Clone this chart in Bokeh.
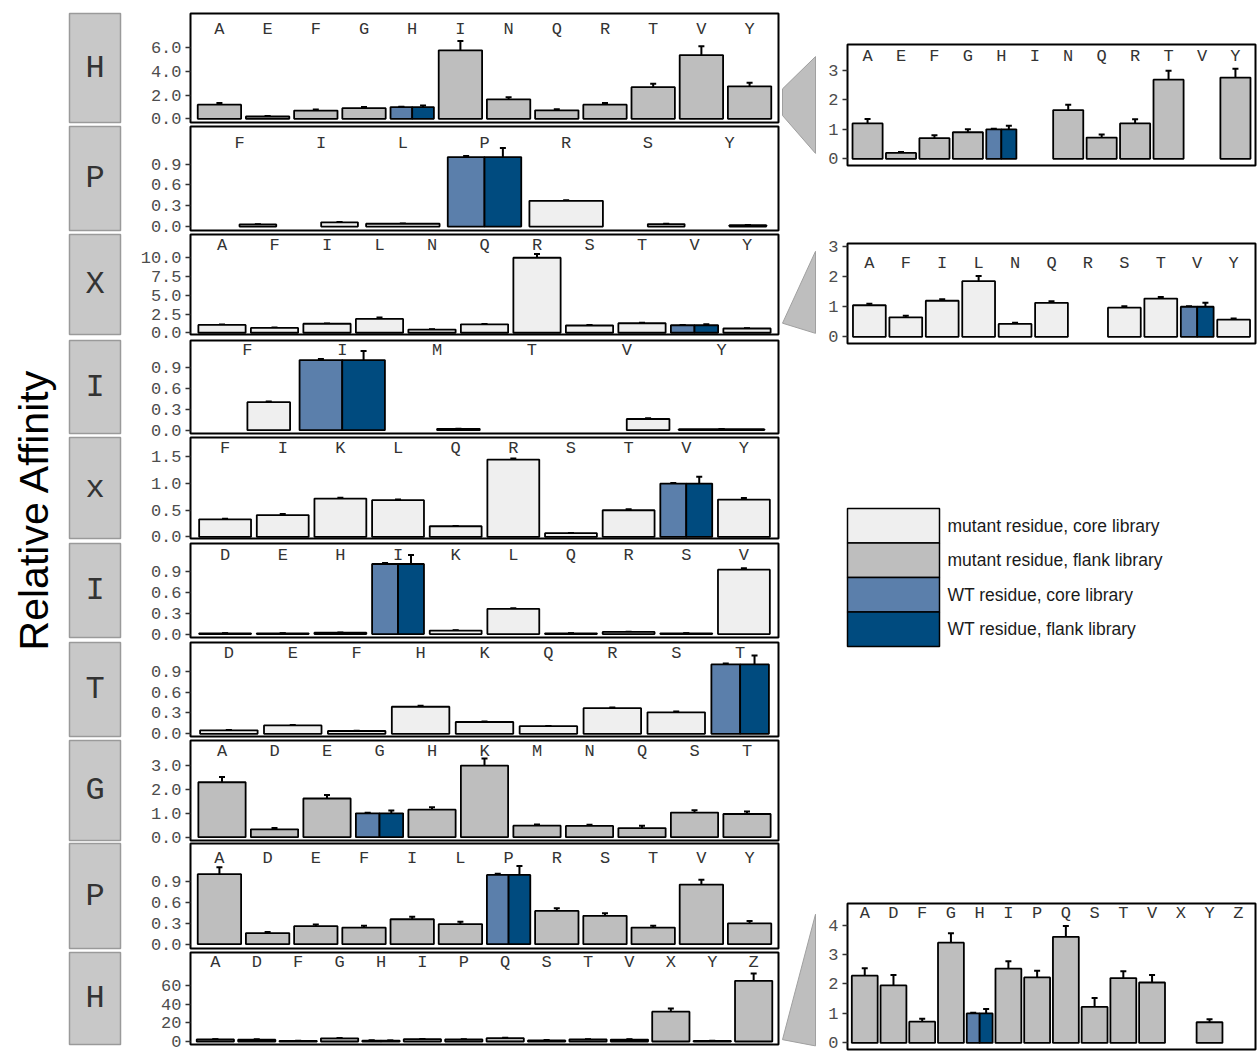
import math

from bokeh.core.properties import value
from bokeh.embed import file_html
from bokeh.layouts import column, row
from bokeh.models import (ColumnDataSource, FixedTicker, Label, PrintfTickFormatter,
                          Range1d, Spacer, TeeHead, Whisker)
from bokeh.plotting import figure
from bokeh.resources import INLINE

MONO = "Liberation Mono"
SANS = "Liberation Sans"

# ---------------------------------------------------------------- data
# Rows with value None are library entries without a measurement; they still
# take their share of the letter's slot (dodged bars).
# library: "C" = core library, "F" = flank library

position_labels = ["H", "P", "X", "I", "x", "I", "T", "G", "P", "H"]
wild_type = ["H", "P", "V", "I", "V", "I", "T", "G", "P", "H"]

p1_letters = ["A", "E", "F", "G", "H", "H", "I", "N", "Q", "R", "T", "V", "Y"]
p1_library = ["F", "F", "F", "F", "C", "F", "F", "F", "F", "F", "F", "F", "F"]
p1_values = [1.2, 0.2, 0.7, 0.9, 1.0, 1.0, 5.8, 1.65, 0.72, 1.2, 2.68, 5.4, 2.75]
p1_errors = [0.15, 0.03, 0.1, 0.1, 0.02, 0.12, 0.8, 0.18, 0.1, 0.14, 0.3, 0.75, 0.3]

p2_letters = ["F", "F", "I", "I", "L", "P", "P", "R", "S", "S", "Y", "Y"]
p2_library = ["C", "F", "F", "C", "C", "C", "F", "C", "C", "F", "C", "F"]
p2_values = [None, 0.03, None, 0.06, 0.04, 1.0, 1.0, 0.37, None, 0.035, None, 0.02]
p2_errors = [None, 0.003, None, 0.004, 0.003, 0.015, 0.13, 0.01, None, 0.004, None, 0.003]

p3_letters = ["A", "F", "I", "L", "N", "Q", "R", "S", "T", "V", "V", "Y"]
p3_library = ["C", "C", "C", "C", "C", "C", "C", "C", "C", "C", "F", "C"]
p3_values = [1.05, 0.65, 1.2, 1.85, 0.43, 1.13, 10.0, 0.97, 1.27, 1.0, 1.0, 0.57]
p3_errors = [0.05, 0.05, 0.05, 0.17, 0.04, 0.05, 0.5, 0.05, 0.05, 0.02, 0.13, 0.04]

p4_letters = ["F", "F", "I", "I", "M", "M", "T", "V", "V", "Y"]
p4_library = ["F", "C", "C", "F", "C", "F", "C", "F", "C", "F"]
p4_values = [None, 0.4, 1.0, 1.0, None, 0.02, None, None, 0.16, 0.015]
p4_errors = [None, 0.01, 0.015, 0.13, None, 0.002, None, None, 0.01, 0.002]

p5_letters = ["F", "I", "K", "L", "Q", "R", "S", "T", "V", "V", "Y"]
p5_library = ["C", "C", "C", "C", "C", "C", "C", "C", "C", "F", "C"]
p5_values = [0.33, 0.41, 0.72, 0.69, 0.2, 1.45, 0.07, 0.5, 1.0, 1.0, 0.70]
p5_errors = [0.01, 0.02, 0.015, 0.012, 0.005, 0.02, 0.005, 0.02, 0.012, 0.13, 0.03]

p6_letters = ["D", "E", "H", "I", "I", "K", "L", "Q", "R", "S", "V"]
p6_library = ["C", "C", "F", "C", "F", "C", "C", "C", "F", "C", "C"]
p6_values = [0.01, 0.01, 0.02, 1.0, 1.0, 0.05, 0.36, 0.01, 0.03, 0.01, 0.92]
p6_errors = [0.002, 0.002, 0.003, 0.015, 0.13, 0.004, 0.008, 0.002, 0.004, 0.002, 0.02]

p7_letters = ["D", "E", "F", "H", "K", "Q", "R", "S", "T", "T"]
p7_library = ["C", "C", "C", "C", "C", "C", "C", "C", "C", "F"]
p7_values = [0.05, 0.12, 0.04, 0.39, 0.17, 0.11, 0.37, 0.31, 1.0, 1.0]
p7_errors = [0.004, 0.006, 0.003, 0.015, 0.008, 0.004, 0.01, 0.01, 0.015, 0.13]

p8_letters = ["A", "D", "E", "G", "G", "H", "K", "M", "N", "Q", "S", "T"]
p8_library = ["F", "F", "F", "C", "F", "F", "F", "F", "F", "F", "F", "F"]
p8_values = [2.3, 0.33, 1.62, 1.0, 1.0, 1.15, 3.0, 0.48, 0.47, 0.38, 1.03, 0.97]
p8_errors = [0.22, 0.05, 0.15, 0.02, 0.12, 0.1, 0.3, 0.05, 0.05, 0.1, 0.1, 0.1]

p9_letters = ["A", "D", "E", "F", "I", "L", "P", "P", "R", "S", "T", "V", "Y"]
p9_library = ["F", "F", "F", "F", "F", "F", "C", "F", "F", "F", "F", "F", "F"]
p9_values = [1.01, 0.16, 0.26, 0.24, 0.36, 0.29, 1.0, 1.0, 0.48, 0.41, 0.24, 0.86, 0.3]
p9_errors = [0.1, 0.015, 0.025, 0.025, 0.035, 0.035, 0.015, 0.13, 0.04, 0.035, 0.025, 0.07, 0.035]

p10_letters = ["A", "D", "F", "G", "H", "H", "I", "P", "Q", "S", "T", "V", "X", "Y", "Z"]
p10_library = ["F", "F", "F", "F", "C", "F", "F", "F", "F", "F", "F", "F", "F", "F", "F"]
p10_values = [2.28, 1.95, 0.72, 3.4, 1.0, 1.0, 2.52, 2.22, 3.6, 1.22, 2.2, 2.05, 32.0, 0.7, 65.0]
p10_errors = [0.25, 0.35, 0.1, 0.32, 0.02, 0.15, 0.25, 0.23, 0.37, 0.3, 0.23, 0.25, 3.5, 0.1, 8.0]

panels = [
    (p1_letters, p1_library, p1_values, p1_errors),
    (p2_letters, p2_library, p2_values, p2_errors),
    (p3_letters, p3_library, p3_values, p3_errors),
    (p4_letters, p4_library, p4_values, p4_errors),
    (p5_letters, p5_library, p5_values, p5_errors),
    (p6_letters, p6_library, p6_values, p6_errors),
    (p7_letters, p7_library, p7_values, p7_errors),
    (p8_letters, p8_library, p8_values, p8_errors),
    (p9_letters, p9_library, p9_values, p9_errors),
    (p10_letters, p10_library, p10_values, p10_errors),
]

legend_labels = ["mutant residue, core library", "mutant residue, flank library",
                 "WT residue, core library", "WT residue, flank library"]

# ---------------------------------------------------------------- styling / layout
FILL = {("mut", "C"): "#EFEFEF", ("mut", "F"): "#BEBEBE",
        ("wt", "C"): "#5B7FAB", ("wt", "F"): "#004B7F"}
legend_colors = [FILL[("mut", "C")], FILL[("mut", "F")], FILL[("wt", "C")], FILL[("wt", "F")]]
BAR_WIDTH = 0.9
OVERLAP = 10  # each row canvas reaches this far under the next one (tick labels)

# y axis settings per panel: (range, ticks, format, height of the letter row)
axis_cfg = [
    ((-0.31, 8.92), [0, 2, 4, 6], "%.1f", 7.6),
    ((-0.057, 1.44), [0, 0.3, 0.6, 0.9], "%.1f", 1.2),
    ((-0.23, 13.1), [0, 2.5, 5, 7.5, 10], "%.1f", 11.6),
    ((-0.047, 1.28), [0, 0.3, 0.6, 0.9], "%.1f", 1.14),
    ((-0.03, 1.865), [0, 0.5, 1.0, 1.5], "%.1f", 1.66),
    ((-0.049, 1.293), [0, 0.3, 0.6, 0.9], "%.1f", 1.12),
    ((-0.039, 1.316), [0, 0.3, 0.6, 0.9], "%.1f", 1.16),
    ((-0.14, 4.05), [0, 1, 2, 3], "%.1f", 3.6),
    ((-0.062, 1.453), [0, 0.3, 0.6, 0.9], "%.1f", 1.24),
    ((-3.2, 95.4), [0, 20, 40, 60], "%d", 84.7),
]
# row bands (page px): figure top, frame top, frame bottom, figure bottom,
# and the bottom of the position box
row_bands = [(0, 13, 122, 124, 122), (124, 126, 230, 232, 230),
             (232, 234, 334, 337, 334), (337, 340, 433, 435, 433),
             (435, 437, 538, 540, 538), (540, 543, 637, 639, 637),
             (639, 642, 736, 738, 736), (738, 740, 840, 841, 840),
             (841, 843, 948, 950, 948), (950, 952, 1044, 1053, 1052)]

# zoomed views: (panel index, y range, ticks, height of the letter row)
inset_cfg = [
    (0, (-0.225, 3.87), [0, 1, 2, 3], 3.47),
    (2, (-0.22, 3.1), [0, 1, 2, 3], 2.43),
    (9, (-0.224, 4.73), [0, 1, 2, 3, 4], 4.4),
]


def clean(p):
    p.xgrid.visible = False
    p.ygrid.visible = False
    return p


def style_axis(p, ticks, fmt):
    ax = p.yaxis[0]
    ax.ticker = FixedTicker(ticks=ticks)
    ax.formatter = PrintfTickFormatter(format=fmt)
    ax.axis_line_color = None
    ax.major_tick_in = 0
    ax.major_tick_out = 5
    ax.major_tick_line_color = "#333333"
    ax.major_tick_line_width = 1.5
    ax.minor_tick_line_color = None
    ax.major_label_standoff = 4
    ax.major_label_text_font = MONO
    ax.major_label_text_font_size = "17px"
    ax.major_label_text_color = "#4D4D4D"


def bar_panel(data, wt, yr, ticks, fmt, letter_y, width, height, borders, clip=False):
    letters, library, values, errors = data
    order = list(dict.fromkeys(letters))
    n = len(order)
    left_b, right_b, top_b, bottom_b = borders
    p = figure(width=width, height=height, title=None, output_backend="svg",
               toolbar_location=None, x_range=Range1d(0.4, n + 0.6),
               y_range=Range1d(*yr), x_axis_location=None,
               min_border_left=left_b, min_border_right=right_b,
               min_border_top=top_b, min_border_bottom=bottom_b,
               outline_line_color="black", outline_line_width=2,
               background_fill_color="white", border_fill_color=None)
    clean(p)
    style_axis(p, ticks, fmt)

    bars = dict(left=[], right=[], top=[], color=[])
    errs = dict(x=[], lower=[], upper=[])
    for slot, letter in enumerate(order, start=1):
        idx = [i for i, l in enumerate(letters) if l == letter]
        w = BAR_WIDTH / len(idx)
        for k, i in enumerate(idx):
            v = values[i]
            if v is None or (clip and v > yr[1]):
                continue
            x0 = slot - BAR_WIDTH / 2 + k * w
            kind = "wt" if letter == wt else "mut"
            bars["left"].append(x0)
            bars["right"].append(x0 + w)
            bars["top"].append(v)
            bars["color"].append(FILL[(kind, library[i])])
            errs["x"].append(x0 + w / 2)
            errs["lower"].append(v - errors[i])
            errs["upper"].append(v + errors[i])

    p.quad(left="left", right="right", bottom=0, top="top", fill_color="color",
           line_color="black", line_width=1.8, source=ColumnDataSource(bars))
    p.add_layout(Whisker(source=ColumnDataSource(errs), base="x", lower="lower",
                         upper="upper", dimension="height", line_color="black",
                         line_width=2,
                         upper_head=TeeHead(size=6, line_width=2, line_color="black"),
                         lower_head=TeeHead(size=6, line_width=2, line_color="black")))
    p.text(x=list(range(1, n + 1)), y=[letter_y] * n, text=order,
           text_font=value(MONO), text_font_size="17px", text_color="#333333",
           text_align="center", text_baseline="middle")
    return p


def position_box(name, height, top_b, bottom_b):
    p = figure(width=58, height=height, title=None, output_backend="svg",
               toolbar_location=None, x_range=Range1d(0, 1), y_range=Range1d(0, 1),
               x_axis_location=None, y_axis_location=None,
               min_border_left=3, min_border_right=4,
               min_border_top=top_b, min_border_bottom=bottom_b,
               background_fill_color="#C8C8C8", border_fill_color=None,
               outline_line_color="#9A9A9A", outline_line_width=1.5)
    clean(p)
    p.add_layout(Label(x=0.5, y=0.5, text=name, text_align="center",
                       text_baseline="middle", text_font=MONO,
                       text_font_size="32px", text_color="#333333"))
    return p


def connector(xs, ys, y_top, y_bottom):
    p = figure(width=40, height=y_bottom - y_top, title=None, output_backend="svg",
               toolbar_location=None, x_range=Range1d(780, 820),
               y_range=Range1d(y_bottom, y_top), x_axis_location=None,
               y_axis_location=None, min_border=0, outline_line_color=None,
               background_fill_color=None, border_fill_color=None)
    clean(p)
    p.patch(xs, ys, fill_color="#BEBEBE", line_color="#A0A0A0", line_width=1)
    return p


# ---------------------------------------------------------------- left block
title_fig = figure(width=66, height=1053, title=None, output_backend="svg",
                   toolbar_location=None, x_range=Range1d(0, 66),
                   y_range=Range1d(0, 1053), x_axis_location=None,
                   y_axis_location=None, min_border=0, outline_line_color=None)
clean(title_fig)
title_fig.text(x=[33], y=[544], text=["Relative Affinity"], angle=math.pi / 2,
               text_font=value(SANS), text_font_size="41px", text_color="black",
               text_align="center", text_baseline="middle")

left_rows = []
last = len(panels) - 1
for k, (data, cfg, band) in enumerate(zip(panels, axis_cfg, row_bands)):
    yr, ticks, fmt, ly = cfg
    fig_top, frame_top, frame_bottom, fig_bottom, box_bottom = band
    extra = OVERLAP if k < last else 0
    h = fig_bottom - fig_top + extra
    tb = frame_top - fig_top
    bb = fig_bottom - frame_bottom + extra
    box = position_box(position_labels[k], h, tb, fig_bottom - box_bottom + extra)
    panel = bar_panel(data, wild_type[k], yr, ticks, fmt, ly, 656, h, (66, 2, tb, bb))
    margin = (-OVERLAP, 0, 0, 0) if k > 0 else (0, 0, 0, 0)
    left_rows.append(row(box, panel, spacing=0, margin=margin))
left_block = column(*left_rows, spacing=0)

# ---------------------------------------------------------------- right block
inset_bands = [(30, 44, 165, 180), (228, 243, 343, 356), (890, 903, 1049, 1053)]
connector_shapes = [
    ([815, 782, 782, 815], [45, 85, 118, 165]),
    ([815, 782, 815], [238, 330, 343]),
    ([815, 782, 815], [902, 1042, 1049]),
]
inset_rows = []
for (pi, yr, ticks, ly), band, shape in zip(inset_cfg, inset_bands, connector_shapes):
    fig_top, frame_top, frame_bottom, fig_bottom = band
    h = fig_bottom - fig_top
    tb, bb = frame_top - fig_top, fig_bottom - frame_bottom
    inset = bar_panel(panels[pi], wild_type[pi], yr, ticks, "%d", ly, 438, h,
                      (27, 3, tb, bb), clip=True)
    inset_rows.append(row(connector(shape[0], shape[1], fig_top, fig_bottom), inset,
                          spacing=0))

legend_fig = figure(width=478, height=155, title=None, output_backend="svg",
                    toolbar_location=None, x_range=Range1d(780, 1258),
                    y_range=Range1d(655, 500), x_axis_location=None,
                    y_axis_location=None, min_border=0, outline_line_color=None)
clean(legend_fig)
key_h = 34.5
key_tops = [508 + key_h * i for i in range(len(legend_labels))]
legend_fig.quad(left=847, right=939, top=key_tops,
                bottom=[t + key_h for t in key_tops], fill_color=legend_colors,
                line_color="black", line_width=1.5)
legend_fig.text(x=[947] * len(legend_labels), y=[t + key_h / 2 for t in key_tops],
                text=legend_labels, text_font=value(SANS), text_font_size="17.5px",
                text_color="#1A1A1A", text_align="left", text_baseline="middle")

right_block = column(
    Spacer(width=478, height=30),
    inset_rows[0],
    Spacer(width=478, height=48),
    inset_rows[1],
    Spacer(width=478, height=144),
    legend_fig,
    Spacer(width=478, height=235),
    inset_rows[2],
    spacing=0,
)

layout = row(title_fig, left_block, right_block, spacing=0)

with open("out.html", "w") as f:
    f.write(file_html(layout, INLINE))
